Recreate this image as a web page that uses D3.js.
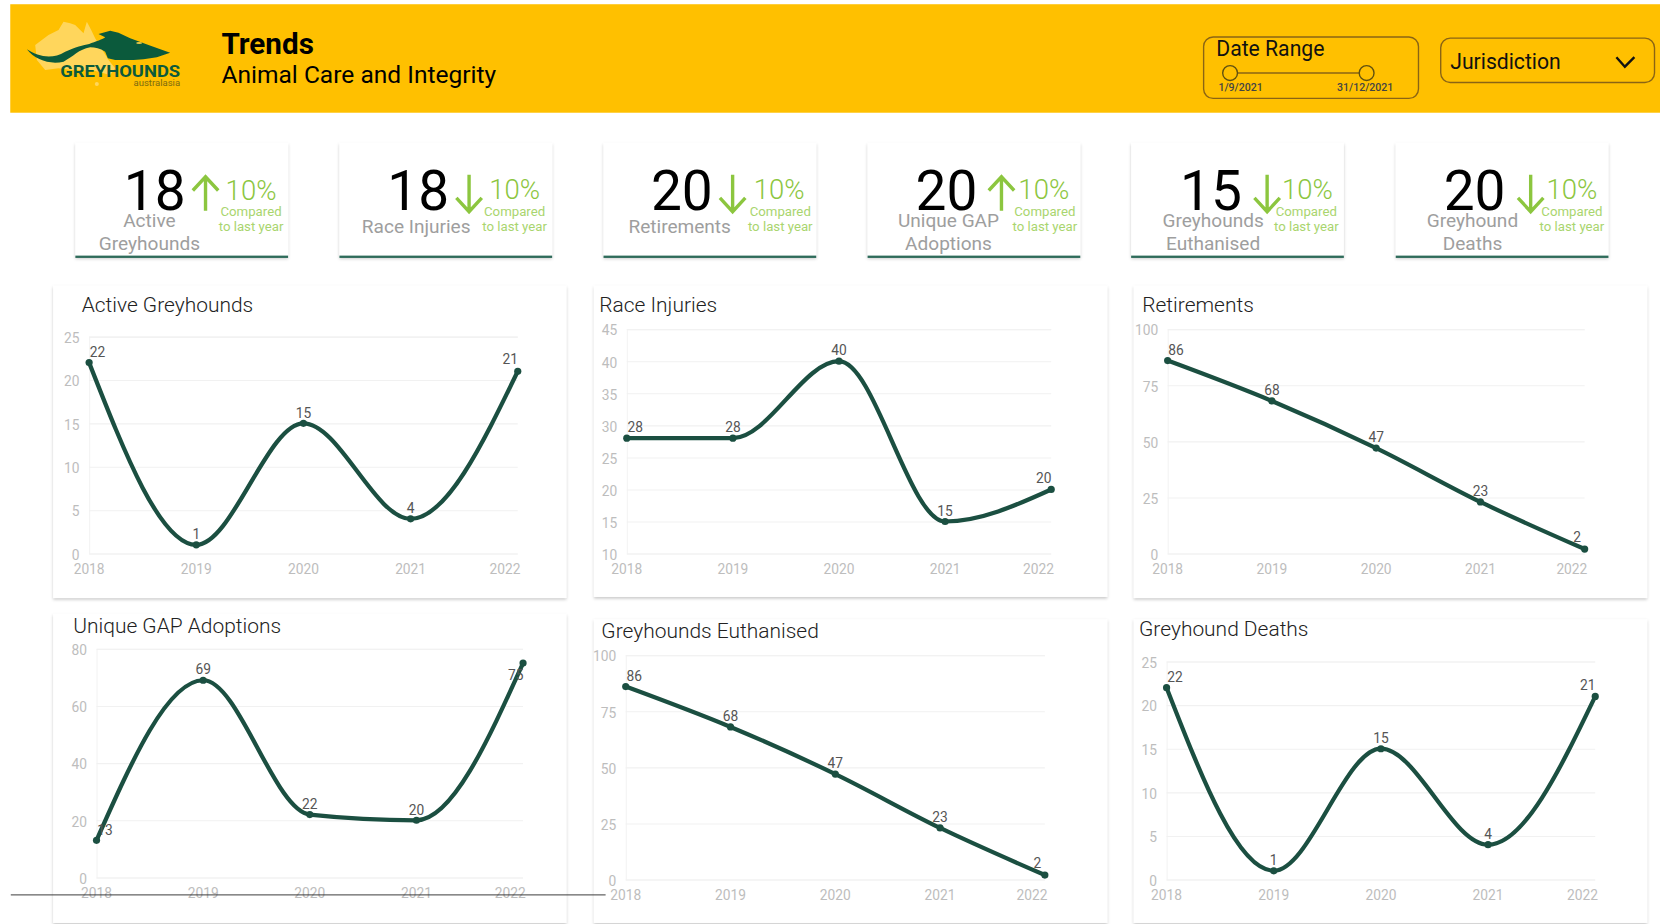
<!DOCTYPE html>
<html>
<head>
<meta charset="utf-8">
<title>Trends</title>
<script src="https://cdn.jsdelivr.net/npm/d3@7"></script>
<style>
  html, body { margin: 0; padding: 0; background: #fff; overflow: hidden; }
  svg { display: block; }
  text { font-family: Roboto, sans-serif; }
</style>
</head>
<body>
<div id="dashboard"></div>
<script>
// Valores
const years = ["2018", "2019", "2020", "2021", "2022"];

const activeGreyhounds = [22, 1, 15, 4, 21];
const raceInjuries = [28, 28, 40, 15, 20];
const retirements = [86, 68, 47, 23, 2];
const gapAdoptions = [13, 69, 22, 20, 75];
const euthanised = [86, 68, 47, 23, 2];
const greyhoundDeaths = [22, 1, 15, 4, 21];

const kpiNumbers = [18, 18, 20, 20, 15, 20];
const kpiDirections = ["up", "down", "down", "up", "down", "down"];
const kpiLabels = [
    ["Active", "Greyhounds"],
    ["Race Injuries"],
    ["Retirements"],
    ["Unique GAP", "Adoptions"],
    ["Greyhounds", "Euthanised"],
    ["Greyhound", "Deaths"]
];
const kpiChange = "10%";

// Layout medido na imagem (unidades do viewBox 1568x873)
const width = 1660, height = 924;
const kpiLayout = [
    { x: 71, num: 146, arrow: 194, pct: 237, note: 237, label: 141 },
    { x: 320.5, num: 395, arrow: 443, pct: 486, note: 486, label: 393 },
    { x: 570, num: 644, arrow: 692, pct: 736, note: 737, label: 642 },
    { x: 819.5, num: 894, arrow: 946, pct: 986, note: 987, label: 896 },
    { x: 1068.5, num: 1144, arrow: 1197, pct: 1235, note: 1234, label: 1146 },
    { x: 1318.5, num: 1393, arrow: 1446, pct: 1485, note: 1485, label: 1391 }
];

const panels = [
    { title: "Active Greyhounds", values: activeGreyhounds, domain: [0, 25], step: 5,
      card: [50, 270, 485, 295], titleX: 77, titleY: 288, x: [84, 489], y: [523, 318], lastDy: -11 },
    { title: "Race Injuries", values: raceInjuries, domain: [10, 45], step: 5,
      card: [561, 270, 485, 294], titleX: 566, titleY: 288, x: [592, 993], y: [523, 311], lastDy: -11 },
    { title: "Retirements", values: retirements, domain: [0, 100], step: 25,
      card: [1071, 270, 485, 295], titleX: 1079, titleY: 288, x: [1103, 1497], y: [523, 311], lastDy: -11 },
    { title: "Unique GAP Adoptions", values: gapAdoptions, domain: [0, 80], step: 20,
      card: [50, 580, 485, 292], titleX: 69, titleY: 591, x: [91, 494], y: [829, 613], lastDy: 11 },
    { title: "Greyhounds Euthanised", values: euthanised, domain: [0, 100], step: 25,
      card: [561, 585, 485, 287], titleX: 568, titleY: 596, x: [591, 987], y: [831, 619], lastDy: -11 },
    { title: "Greyhound Deaths", values: greyhoundDeaths, domain: [0, 25], step: 5,
      card: [1071, 585, 485, 287], titleX: 1076, titleY: 594, x: [1102, 1507], y: [831, 625], lastDy: -11 }
];

const green = "#1b4f41";
const kpiGreen = "#8cc63f";

const svg = d3.select("#dashboard")
    .append("svg")
    .attr("width", width)
    .attr("height", height)
    .attr("viewBox", "0 0 1568 873");

const defs = svg.append("defs");
const cardShadow = defs.append("filter").attr("id", "card-shadow")
    .attr("x", "-5%").attr("y", "-5%").attr("width", "110%").attr("height", "112%");
cardShadow.append("feDropShadow")
    .attr("dx", 0).attr("dy", 1.5).attr("stdDeviation", 1.6)
    .attr("flood-color", "#000").attr("flood-opacity", 0.22);

// Cabeçalho
const header = svg.append("g");
header.append("rect")
    .attr("x", 9.5).attr("y", 4).attr("width", 1559).attr("height", 102.5)
    .attr("fill", "#ffc000");

// Logo
const logo = header.append("g").attr("transform", "scale(0.9446) translate(15,10) scale(0.3333)");
logo.append("path")
    .attr("fill", "#ffd65c")
    .attr("d", "M60,105 L100,75 L130,60 L145,35 L165,40 L180,45 L205,70 L215,35 L228,60 L240,85 L280,150 L300,175 L285,195 L230,180 L170,180 L130,175 L90,180 L65,150 Z");
logo.append("circle").attr("cx", 245).attr("cy", 222).attr("r", 6).attr("fill", "#ffd65c");
logo.append("path")
    .attr("fill", "#0b5a3c")
    .attr("d", "M35,118 C70,140 110,150 150,125 C180,112 205,105 222,102 C240,95 265,88 270,82 L250,72 L285,62 L310,68 L345,85 L400,105 L465,128 L425,142 L385,148 L355,150 L300,150 L278,145 L270,125 C255,115 240,112 225,112 C190,118 175,140 145,155 C105,165 60,150 35,118 Z");
logo.append("ellipse").attr("cx", 372).attr("cy", 99).attr("rx", 9).attr("ry", 3).attr("fill", "#e7c84a");
logo.append("text")
    .attr("x", 135).attr("y", 200)
    .attr("font-size", 47).attr("font-weight", 700)
    .attr("textLength", 360).attr("lengthAdjust", "spacingAndGlyphs")
    .attr("fill", "#0b5a3c").text("GREYHOUNDS");
logo.append("text")
    .attr("x", 355).attr("y", 229)
    .attr("font-size", 25)
    .attr("textLength", 140).attr("lengthAdjust", "spacingAndGlyphs")
    .attr("fill", "#7a6a10").text("australasia");

header.append("text")
    .attr("x", 209).attr("y", 51)
    .attr("font-size", 28).attr("font-weight", 700).attr("fill", "#000").text("Trends");
header.append("text")
    .attr("x", 209).attr("y", 78)
    .attr("font-size", 23.2).attr("fill", "#000").text("Animal Care and Integrity");

// Filtro de datas
const controlStroke = "#8a6414";
header.append("rect")
    .attr("x", 1137).attr("y", 35).attr("width", 203).attr("height", 58).attr("rx", 9)
    .attr("fill", "none").attr("stroke", controlStroke).attr("stroke-width", 1.3);
header.append("text")
    .attr("x", 1149).attr("y", 53)
    .attr("font-size", 20).attr("fill", "#111").text("Date Range");
header.append("line")
    .attr("x1", 1162).attr("x2", 1291).attr("y1", 69).attr("y2", 69)
    .attr("stroke", controlStroke).attr("stroke-width", 1.3);
header.selectAll(".handle")
    .data([1162, 1291])
    .join("circle")
    .attr("class", "handle")
    .attr("cx", d => d).attr("cy", 69).attr("r", 7)
    .attr("fill", "#ffc000").attr("stroke", "#5f5010").attr("stroke-width", 1.3);
header.append("text")
    .attr("x", 1151).attr("y", 86)
    .attr("font-size", 10).attr("font-weight", 500).attr("fill", "#444").text("1/9/2021");
header.append("text")
    .attr("x", 1263).attr("y", 86)
    .attr("font-size", 10).attr("font-weight", 500).attr("fill", "#444").text("31/12/2021");

// Jurisdição
header.append("rect")
    .attr("x", 1361).attr("y", 36).attr("width", 202).attr("height", 42).attr("rx", 9)
    .attr("fill", "none").attr("stroke", controlStroke).attr("stroke-width", 1.3);
header.append("text")
    .attr("x", 1370).attr("y", 65)
    .attr("font-size", 20).attr("fill", "#111").text("Jurisdiction");
header.append("path")
    .attr("d", "M1527,54 L1535,63 L1544,54")
    .attr("fill", "none").attr("stroke", "#111").attr("stroke-width", 2.2);

// Cartões de indicadores
const kpis = svg.selectAll(".kpi")
    .data(kpiLayout)
    .join("g")
    .attr("class", "kpi");

kpis.append("rect")
    .attr("x", d => d.x).attr("y", 135).attr("width", 201).attr("height", 108)
    .attr("fill", "#fff").attr("filter", "url(#card-shadow)");
kpis.append("rect")
    .attr("x", d => d.x).attr("y", 241.5).attr("width", 201).attr("height", 2.2)
    .attr("fill", "#2e6b5a");

kpis.append("text")
    .attr("x", d => d.num).attr("y", 198)
    .attr("text-anchor", "middle").attr("font-size", 52).attr("fill", "#000")
    .text((d, i) => kpiNumbers[i]);

kpis.append("path")
    .attr("fill", "none").attr("stroke", kpiGreen).attr("stroke-width", 3.2)
    .attr("d", (d, i) => {
        const a = d.arrow;
        return kpiDirections[i] === "up"
            ? `M${a},199 V168 M${a - 12},180 L${a},167 L${a + 12},180`
            : `M${a},165 V200 M${a - 12},187 L${a},200 L${a + 12},187`;
    });

kpis.append("text")
    .attr("x", d => d.pct).attr("y", (d, i) => i === 0 ? 189 : 188)
    .attr("text-anchor", "middle").attr("font-size", 26).attr("font-weight", 300)
    .attr("fill", kpiGreen).text(kpiChange);
kpis.append("text")
    .attr("x", d => d.note).attr("y", 204)
    .attr("text-anchor", "middle").attr("font-size", 12.5).attr("fill", "#a9d56e").text("Compared");
kpis.append("text")
    .attr("x", d => d.note).attr("y", 218)
    .attr("text-anchor", "middle").attr("font-size", 12.5).attr("fill", "#a9d56e").text("to last year");

kpis.each(function(d, i) {
    const lines = kpiLabels[i];
    const baselines = lines.length === 1 ? [220] : [214, 236];
    d3.select(this).selectAll(".kpi-label")
        .data(lines)
        .join("text")
        .attr("class", "kpi-label")
        .attr("x", d.label)
        .attr("y", (t, j) => baselines[j])
        .attr("text-anchor", "middle")
        .attr("font-size", 18)
        .attr("fill", "#9e9e9e")
        .text(t => t);
});

// Painéis de tendência
panels.forEach(p => {
    const g = svg.append("g").attr("class", "panel");
    const [cx, cy, cw, ch] = p.card;

    g.append("rect")
        .attr("x", cx).attr("y", cy).attr("width", cw).attr("height", ch)
        .attr("fill", "#fff").attr("filter", "url(#card-shadow)");

    g.append("text")
        .attr("x", p.titleX).attr("y", p.titleY + 7)
        .attr("font-size", 19.8).attr("font-weight", 300).attr("fill", "#222")
        .text(p.title);

    const x = d3.scalePoint().domain(years).range(p.x);
    const y = d3.scaleLinear().domain(p.domain).range(p.y);
    const yTicks = d3.range(p.domain[0], p.domain[1] + 1, p.step);

    // Grade e eixo Y
    const yAxis = g.append("g")
        .attr("transform", `translate(${p.x[0]},0)`)
        .call(d3.axisLeft(y).tickValues(yTicks).tickSize(p.x[0] - p.x[1]).tickPadding(8));
    yAxis.select(".domain").attr("stroke", "#f3f3f3");
    yAxis.selectAll(".tick line").attr("stroke", "#f1f1f1");
    yAxis.selectAll(".tick text")
        .attr("font-family", "Roboto, sans-serif").attr("font-size", 13).attr("fill", "#bdbdbd")
        .attr("x", -9).attr("dy", "0.42em");

    // Eixo X: o último rótulo termina no fim do gráfico
    const xAxis = g.append("g")
        .attr("transform", `translate(0,${p.y[0]})`)
        .call(d3.axisBottom(x).tickSize(0).tickPadding(8));
    xAxis.select(".domain").remove();
    xAxis.selectAll(".tick text")
        .attr("font-family", "Roboto, sans-serif").attr("font-size", 13).attr("fill", "#bdbdbd")
        .attr("dy", "0.85em")
        .attr("text-anchor", (d, i) => i === years.length - 1 ? "end" : "middle")
        .attr("x", (d, i) => i === years.length - 1 ? 2 : -0.5);

    const line = d3.line()
        .x((d, i) => x(years[i]))
        .y(d => y(d))
        .curve(d3.curveMonotoneX);

    g.append("path")
        .datum(p.values)
        .attr("fill", "none")
        .attr("stroke", green)
        .attr("stroke-width", 4)
        .attr("d", line);

    g.selectAll(".dot")
        .data(p.values)
        .join("circle")
        .attr("class", "dot")
        .attr("cx", (d, i) => x(years[i]))
        .attr("cy", d => y(d))
        .attr("r", 3.4)
        .attr("fill", green);

    g.selectAll(".value")
        .data(p.values)
        .join("text")
        .attr("class", "value")
        .attr("x", (d, i) => x(years[i]) + (i === 0 ? 8 : i === years.length - 1 ? -7 : 0))
        .attr("y", (d, i) => y(d) + (i === years.length - 1 ? p.lastDy : -10))
        .attr("dy", "0.35em")
        .attr("text-anchor", "middle")
        .attr("font-size", 13)
        .attr("fill", "#555")
        .text(d => d);
});

// Linha solta sobre a fileira de baixo
svg.append("line")
    .attr("x1", 10).attr("x2", 572).attr("y1", 845.5).attr("y2", 845.5)
    .attr("stroke", "#333").attr("stroke-width", 0.9);
</script>
</body>
</html>
